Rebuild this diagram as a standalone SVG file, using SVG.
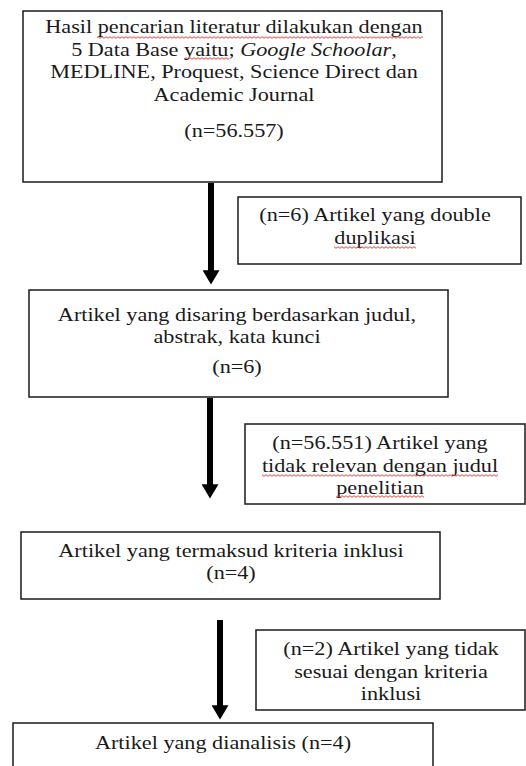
<svg xmlns="http://www.w3.org/2000/svg" width="526" height="766" viewBox="0 0 526 766">
<style>
  .box { fill: #ffffff; stroke: #1a1a1a; stroke-width: 1.5; }
  .t { font-family: "Liberation Serif", "Times New Roman", serif; font-size: 19px; fill: #1a1a1a; text-anchor: middle; }
  .it { font-style: italic; }
  .arrow { stroke: #000000; stroke-width: 6; fill: none; marker-end: url(#head); }
  .sq { fill: url(#wave); }
</style>
<defs>
  <marker id="head" markerUnits="userSpaceOnUse" markerWidth="20" markerHeight="17" viewBox="0 0 17 20" refX="1" refY="10" orient="auto">
    <path d="M0,0 L17,10 L0,20 z" fill="#000000"/>
  </marker>
  <pattern id="wave" width="4" height="3" patternUnits="userSpaceOnUse">
    <path d="M0,2.3 L2,0.7 L4,2.3" fill="none" stroke="#e0302a" stroke-width="0.9"/>
  </pattern>
</defs>
<rect width="526" height="766" fill="#ffffff"/>

<g id="connectors">
  <line class="arrow" x1="211" y1="183" x2="211" y2="271"/>
  <line class="arrow" x1="210" y1="398" x2="210" y2="485"/>
  <line class="arrow" x1="220" y1="620" x2="220" y2="706"/>
</g>

<g id="n1">
  <rect class="box" x="23" y="11" width="419" height="171"/>
  <g transform="translate(234 0) scale(1.17 1)">
    <text class="t" x="0" y="33">Hasil pencarian literatur dilakukan dengan</text>
    <text class="t" x="0" y="56">5 Data Base yaitu; <tspan class="it">Google Schoolar</tspan>,</text>
    <text class="t" x="0" y="78">MEDLINE, Proquest, Science Direct dan</text>
    <text class="t" x="0" y="101">Academic Journal</text>
    <text class="t" x="0" y="137">(n=56.557)</text>
  </g>
  <rect class="sq" x="97" y="36" width="326" height="3"/>
  <rect class="sq" x="184" y="57" width="45" height="3"/>
</g>

<g id="n1x">
  <rect class="box" x="238" y="197" width="283" height="67"/>
  <g transform="translate(375 0) scale(1.17 1)">
    <text class="t" x="0" y="221">(n=6) Artikel yang double</text>
    <text class="t" x="0" y="244">duplikasi</text>
  </g>
  <rect class="sq" x="334" y="246" width="82" height="3"/>
</g>

<g id="n2">
  <rect class="box" x="29" y="290" width="419" height="107"/>
  <g transform="translate(237 0) scale(1.17 1)">
    <text class="t" x="0" y="321">Artikel yang disaring berdasarkan judul,</text>
    <text class="t" x="0" y="343">abstrak, kata kunci</text>
    <text class="t" x="0" y="373">(n=6)</text>
  </g>
</g>

<g id="n2x">
  <rect class="box" x="245" y="424" width="280" height="80"/>
  <g transform="translate(380 0) scale(1.17 1)">
    <text class="t" x="0" y="449">(n=56.551) Artikel yang</text>
    <text class="t" x="0" y="472">tidak relevan dengan judul</text>
    <text class="t" x="0" y="494">penelitian</text>
  </g>
  <rect class="sq" x="262" y="474" width="236" height="3"/>
  <rect class="sq" x="336" y="495" width="88" height="3"/>
</g>

<g id="n3">
  <rect class="box" x="21" y="532" width="419" height="67"/>
  <g transform="translate(231 0) scale(1.17 1)">
    <text class="t" x="0" y="557">Artikel yang termaksud kriteria inklusi</text>
    <text class="t" x="0" y="579">(n=4)</text>
  </g>
</g>

<g id="n3x">
  <rect class="box" x="256" y="630" width="269" height="80"/>
  <g transform="translate(391 0) scale(1.17 1)">
    <text class="t" x="0" y="655">(n=2) Artikel yang tidak</text>
    <text class="t" x="0" y="678">sesuai dengan kriteria</text>
    <text class="t" x="0" y="700">inklusi</text>
  </g>
</g>

<g id="n4">
  <rect class="box" x="13" y="723" width="420" height="70"/>
  <g transform="translate(223 0) scale(1.17 1)">
    <text class="t" x="0" y="749">Artikel yang dianalisis (n=4)</text>
  </g>
</g>
</svg>
